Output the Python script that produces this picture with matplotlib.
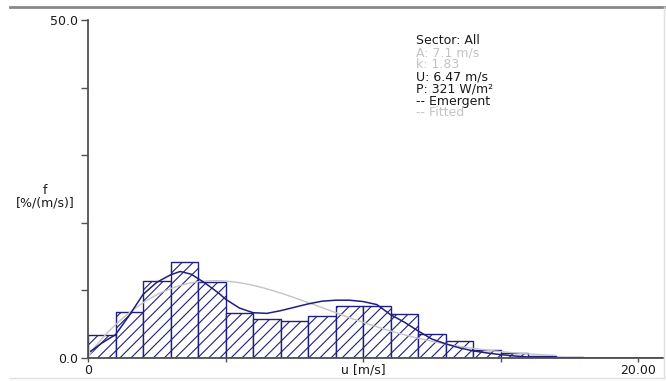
import matplotlib
matplotlib.use('Agg')
import matplotlib.pyplot as plt
from matplotlib.lines import Line2D
import numpy as np

# Frequency table, 1 m/s bins
bin_left = np.arange(0, 18)
freq = [3.45, 6.76, 11.35, 14.17, 11.2, 6.67, 5.78, 5.43, 6.17,
        7.75, 7.65, 6.5, 3.6, 2.46, 1.2, 0.74, 0.25, 0.1]

# Emergent distribution curve
emg_u = [0.1, 0.5, 1.0, 1.5, 2.0, 2.5, 3.0, 3.35, 3.75, 4.25, 4.75, 5.0,
         5.5, 6.0, 6.5, 7.0, 7.5, 8.0, 8.5, 9.0, 9.5, 10.0, 10.5, 11.0,
         11.5, 12.0, 12.5, 13.0, 13.5, 14.0, 14.5, 15.0, 15.5, 16.0, 17.0,
         18.0, 20.9]
emg_f = [1.0, 2.2, 3.45, 6.3, 9.4, 11.2, 12.3, 12.8, 12.4, 11.1, 9.6, 8.7,
         7.4, 6.7, 6.6, 7.0, 7.5, 8.0, 8.4, 8.55, 8.55, 8.35, 7.9, 6.4,
         5.3, 4.0, 2.8, 2.1, 1.5, 1.05, 0.75, 0.5, 0.3, 0.15, 0.05,
         0.0, 0.0]

# Weibull fit parameters
A_FIT = 7.1
K_FIT = 1.83

info_lines = [("Sector: All", "#1a1a1a"),
              ("A: 7.1 m/s", "#c4c4c4"),
              ("k: 1.83", "#c4c4c4"),
              ("U: 6.47 m/s", "#1a1a1a"),
              ("P: 321 W/m\u00b2", "#1a1a1a"),
              ("-- Emergent", "#1a1a1a"),
              ("-- Fitted", "#c4c4c4")]

navy = '#1f1f7e'
axis_col = '#505050'
W, H = 666, 381
fs = 9

plt.rcParams['font.family'] = 'DejaVu Sans'
plt.rcParams['hatch.linewidth'] = 0.8
plt.rcParams['hatch.color'] = navy

fig = plt.figure(figsize=(W / 100, H / 100), dpi=100)
ax = fig.add_axes([88 / W, (H - 358) / H, 575 / W, 338 / H])

ax.bar(bin_left, freq, width=1.0, align='edge', facecolor='white',
       edgecolor=navy, linewidth=1.0, hatch='///', zorder=2)

u_fit = np.linspace(0.0, 17.0, 200)
f_fit = 100 * (K_FIT / A_FIT) * (u_fit / A_FIT) ** (K_FIT - 1) * np.exp(-(u_fit / A_FIT) ** K_FIT)
ax.plot(u_fit, f_fit, color='#c4c4c4', linewidth=1.0, zorder=3)
ax.plot(emg_u, emg_f, color=navy, linewidth=1.1, zorder=4)

ax.set_xlim(0, 20.9)
ax.set_ylim(0, 50)
for side in ['top', 'right']:
    ax.spines[side].set_visible(False)
for side in ['left', 'bottom']:
    ax.spines[side].set_color(axis_col)
    ax.spines[side].set_linewidth(1.3)
    ax.spines[side].set_zorder(5)

ax.set_yticks([0, 10, 20, 30, 40, 50])
ax.set_yticklabels(['0.0', '', '', '', '', '50.0'])
ax.set_xticks([0, 5, 10, 15, 20])
ax.set_xticklabels(['0', '', 'u [m/s]', '', '20.00'])
ax.tick_params(axis='y', direction='out', length=5, width=1, color=axis_col,
               labelsize=fs, labelcolor='#1a1a1a', pad=2)
ax.tick_params(axis='x', direction='out', length=3, width=1, color=axis_col,
               labelsize=fs, labelcolor='#1a1a1a', pad=1)

fig.text(45 / W, 1 - 197 / H, 'f\n[%/(m/s)]', ha='center', va='center',
         multialignment='center', fontsize=fs, color='#1a1a1a', linespacing=0.95)

for i, (txt, col) in enumerate(info_lines):
    fig.text(416 / W, 1 - (41 + i * 12) / H, txt, ha='left', va='center',
             fontsize=fs, color=col)

# frame lines around the plot area
fig.add_artist(Line2D([10 / W, 1], [1 - 7 / H, 1 - 7 / H], color='#888888', linewidth=2))
fig.add_artist(Line2D([664 / W, 664 / W], [1 - 7 / H, 1 - 378 / H], color='#e0e0e0', linewidth=1))
fig.add_artist(Line2D([10 / W, 664 / W], [1 - 378 / H, 1 - 378 / H], color='#e0e0e0', linewidth=1))

fig.savefig('out.png', dpi=100)
